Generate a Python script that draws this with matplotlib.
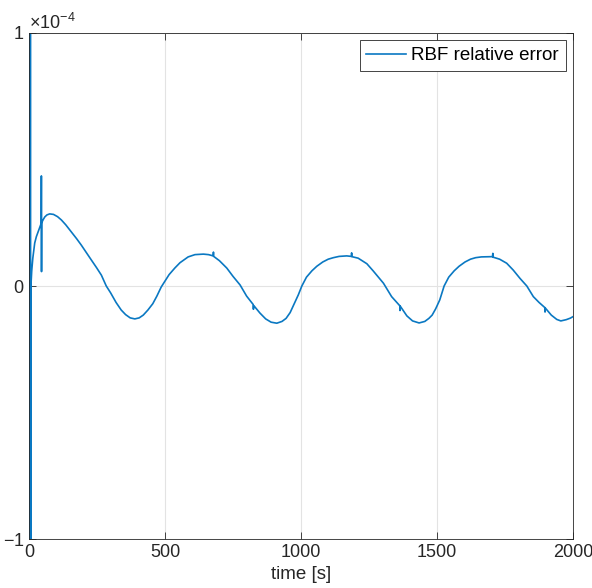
import matplotlib
matplotlib.use("Agg")
import matplotlib.pyplot as plt
import numpy as np
from matplotlib.ticker import ScalarFormatter

# values; error given in units of 1e-4
time_s = [
    0, 1, 2, 3, 4, 5, 6, 7, 10, 14, 21, 27, 33, 39, 44, 45, 45.5, 46, 46.5,
    52, 58, 66, 76, 90, 105, 119, 135, 156, 175, 192, 210, 229, 248, 266,
    284, 300, 320, 339, 355, 372, 389, 405, 420, 437, 455, 470, 486, 500,
    515, 536, 555, 585, 610, 641, 660, 677, 678, 679, 700, 727, 750, 776,
    800, 824, 825, 826, 849, 870, 890, 911, 930, 945, 960, 975, 990, 1003,
    1020, 1040, 1058, 1080, 1100, 1119, 1140, 1168, 1185, 1186, 1187, 1210,
    1242, 1265, 1290, 1303, 1333, 1363, 1364, 1365, 1389, 1410, 1434, 1455,
    1470, 1482, 1495, 1510, 1526, 1543, 1563, 1581, 1603, 1623, 1642, 1663,
    1701, 1704, 1705, 1706, 1730, 1756, 1780, 1805, 1830, 1854, 1875, 1896,
    1897, 1898, 1920, 1940, 1955, 1975, 1990, 2000,
]
rel_error_e4 = [
    0.0, 3.0, -3.0, 3.0, -3.0, 3.0, -3.0, 0.0, 0.06, 0.11, 0.17, 0.195,
    0.213, 0.23, 0.245, 0.246, 0.435, 0.057, 0.25, 0.262, 0.273, 0.281,
    0.285, 0.283, 0.274, 0.261, 0.242, 0.213, 0.187, 0.162, 0.133, 0.103,
    0.073, 0.043, 0.0, -0.027, -0.065, -0.095, -0.113, -0.126, -0.13,
    -0.126, -0.115, -0.095, -0.07, -0.04, -0.004, 0.02, 0.045, 0.071,
    0.092, 0.115, 0.124, 0.126, 0.124, 0.119, 0.134, 0.117, 0.1, 0.071,
    0.038, 0.004, -0.04, -0.073, -0.092, -0.077, -0.107, -0.13, -0.143,
    -0.147, -0.14, -0.128, -0.105, -0.07, -0.035, 0.0, 0.035, 0.06, 0.078,
    0.095, 0.106, 0.112, 0.117, 0.119, 0.117, 0.131, 0.116, 0.11, 0.088,
    0.06, 0.028, 0.011, -0.042, -0.078, -0.097, -0.08, -0.118, -0.138,
    -0.146, -0.14, -0.128, -0.115, -0.09, -0.055, 0.0, 0.035, 0.06, 0.078,
    0.095, 0.106, 0.112, 0.115, 0.116, 0.115, 0.129, 0.114, 0.106, 0.09,
    0.063, 0.03, 0.0, -0.042, -0.065, -0.085, -0.103, -0.087, -0.115,
    -0.132, -0.138, -0.133, -0.127, -0.121,
]

series_label = "RBF relative error"
x_ticks = [0, 500, 1000, 1500, 2000]
y_ticks = [-1e-4, 0, 1e-4]

plt.rcParams["font.family"] = ["Liberation Sans", "DejaVu Sans"]
plt.rcParams["mathtext.fontset"] = "custom"
plt.rcParams["mathtext.rm"] = "Liberation Sans"
plt.rcParams["mathtext.it"] = "Liberation Sans:italic"
plt.rcParams["axes.unicode_minus"] = False

dark = "#262626"
fs = 13

fig = plt.figure(figsize=(5.92, 5.88), dpi=100)
ax = fig.add_axes([0.049, 0.0833, 0.919, 0.8606])

t = np.array(time_s)
err = np.array(rel_error_e4) * 1e-4
ax.plot(t, err, color="#0A78C2", linewidth=1.2, label=series_label)

ax.set_xlim(0, 2000)
ax.set_ylim(-1e-4, 1e-4)
ax.set_xticks(x_ticks)
ax.set_yticks(y_ticks)

fmt = ScalarFormatter(useMathText=True)
fmt.set_powerlimits((0, 0))
ax.yaxis.set_major_formatter(fmt)
ax.yaxis.get_offset_text().set_fontsize(fs)
ax.yaxis.get_offset_text().set_color(dark)

ax.grid(True, color="#e3e3e3", linewidth=0.8)
ax.set_axisbelow(True)
ax.tick_params(direction="in", length=5, width=0.6, colors=dark,
               labelsize=fs, top=True, right=True)
for spine in ax.spines.values():
    spine.set_color(dark)
    spine.set_linewidth(0.6)

ax.set_xlabel("time [s]", fontsize=fs + 0.5, color=dark, labelpad=4)

leg = ax.legend(loc="upper right", fontsize=fs + 0.5, fancybox=False,
                framealpha=1.0, edgecolor=dark, handlelength=2.1,
                borderaxespad=0.4, handletextpad=0.3, borderpad=0.35)
leg.get_frame().set_linewidth(0.6)

fig.savefig("out.png", dpi=100)
